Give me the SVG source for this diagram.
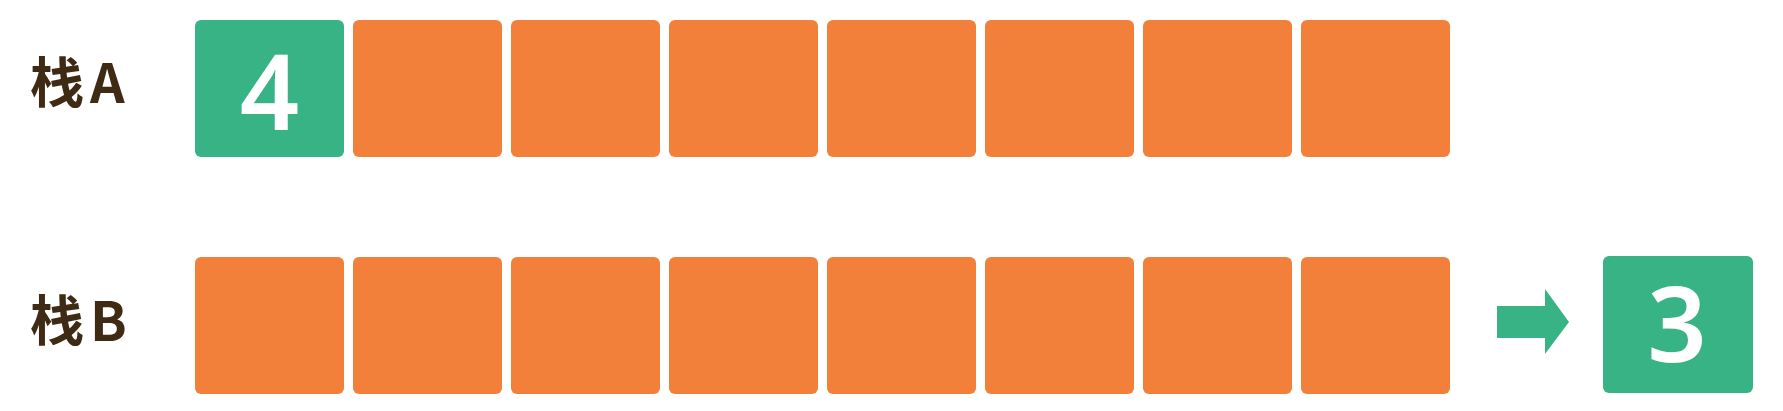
<svg xmlns="http://www.w3.org/2000/svg" width="1783" height="411" viewBox="0 0 1783 411">
  <style>
    .o { fill: #f3803a; }
    .g { fill: #37b386; }
    .lbl { font-family: "Noto Sans CJK SC", "Noto Sans", sans-serif; font-size: 54px; font-weight: 700; fill: #3f2a14; letter-spacing: 6px; }
    .num { font-family: "Noto Sans", "Liberation Sans", sans-serif; font-size: 104px; font-weight: 600; fill: #ffffff; text-anchor: middle; }
  </style>
  <rect width="1783" height="411" fill="#ffffff"/>
  <g id="label-a"><text class="lbl" x="30" y="103">栈A</text></g>
  <g id="label-b"><text class="lbl" x="30" y="341">栈B</text></g>
  <g id="stack-a">
    <g id="a1"><rect class="g" x="195" y="20" width="149" height="137" rx="6"/><text class="num" x="269.5" y="130">4</text></g>
    <g id="a2"><rect class="o" x="353" y="20" width="149" height="137" rx="6"/></g>
    <g id="a3"><rect class="o" x="511" y="20" width="149" height="137" rx="6"/></g>
    <g id="a4"><rect class="o" x="669" y="20" width="149" height="137" rx="6"/></g>
    <g id="a5"><rect class="o" x="827" y="20" width="149" height="137" rx="6"/></g>
    <g id="a6"><rect class="o" x="985" y="20" width="149" height="137" rx="6"/></g>
    <g id="a7"><rect class="o" x="1143" y="20" width="149" height="137" rx="6"/></g>
    <g id="a8"><rect class="o" x="1301" y="20" width="149" height="137" rx="6"/></g>
  </g>
  <g id="stack-b">
    <g id="b1"><rect class="o" x="195" y="257" width="149" height="137" rx="6"/></g>
    <g id="b2"><rect class="o" x="353" y="257" width="149" height="137" rx="6"/></g>
    <g id="b3"><rect class="o" x="511" y="257" width="149" height="137" rx="6"/></g>
    <g id="b4"><rect class="o" x="669" y="257" width="149" height="137" rx="6"/></g>
    <g id="b5"><rect class="o" x="827" y="257" width="149" height="137" rx="6"/></g>
    <g id="b6"><rect class="o" x="985" y="257" width="149" height="137" rx="6"/></g>
    <g id="b7"><rect class="o" x="1143" y="257" width="149" height="137" rx="6"/></g>
    <g id="b8"><rect class="o" x="1301" y="257" width="149" height="137" rx="6"/></g>
  </g>
  <g id="popped">
    <rect class="g" x="1603" y="256" width="150" height="137" rx="6"/>
    <text class="num" x="1677" y="362">3</text>
  </g>
  <g id="connectors">
    <path class="g" d="M1497 306 L1545 306 L1545 289 L1569 322 L1545 354 L1545 338 L1497 338 Z"/>
  </g>
</svg>
